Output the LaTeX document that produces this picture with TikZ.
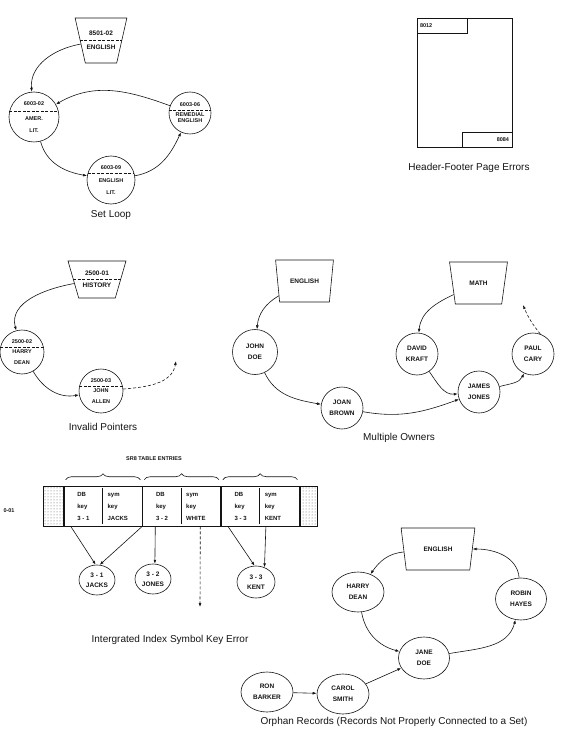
\documentclass[tikz,border=0pt]{standalone}
\usepackage{fontspec}
\setmainfont{Liberation Sans}
\definecolor{Ink}{HTML}{141414}
\usetikzlibrary{positioning,calc,arrows.meta,shapes.geometric,patterns,decorations.pathreplacing}
\renewcommand{\arraystretch}{1.5}
\tikzset{
  rec/.style={circle,draw=Ink,line width=0.6pt,inner sep=0pt,minimum size=44pt,
    align=center,font=\bfseries\fontsize{5.5}{6.6}\selectfont,text=Ink},
  recb/.style={rec,font=\bfseries\fontsize{6.5}{7.8}\selectfont},
  rece/.style={recb,ellipse,minimum width=52pt,minimum height=40pt},
  own/.style={trapezium,trapezium angle=63,shape border rotate=180,
    trapezium stretches=true,draw=Ink,line width=0.6pt,inner sep=0pt,
    minimum width=58pt,minimum height=42pt,align=center,
    font=\bfseries\fontsize{6.5}{7.8}\selectfont,text=Ink},
  ptr/.style={-{Latex[length=4pt,width=2.8pt]},draw=Ink,line width=0.6pt},
  lost/.style={ptr,dash pattern=on 3pt off 2pt},
  cut/.style={draw=Ink,line width=0.6pt,dash pattern=on 3pt off 1.5pt},
  ttl/.style={font=\fontsize{10}{12}\selectfont,text=Ink},
  lbl/.style={font=\bfseries\fontsize{5.5}{6.6}\selectfont,text=Ink},
  hf/.style={lbl,draw=Ink,line width=0.6pt,minimum width=50pt,minimum height=15pt,
    text width=44pt,inner xsep=3pt,inner ysep=0pt},
  ent/.style={draw=Ink,line width=0.6pt,minimum width=78pt,minimum height=40pt,
    inner sep=0pt,font=\bfseries\fontsize{6}{8}\selectfont,text=Ink},
  pad/.style={draw=Ink,line width=0.6pt,minimum height=40pt,inner sep=0pt,
    pattern=dots,pattern color=Ink!70},
  brc/.style={decorate,decoration={brace,amplitude=6pt},draw=Ink,line width=0.6pt},
}
\newcommand{\tblent}[2]{\begin{tabular}{@{\hspace{13pt}}p{25pt}@{}|@{\hspace{5pt}}p{34pt}@{}}
  DB&sym\\key&key\\#1&#2\end{tabular}}

\begin{document}
\begin{tikzpicture}[x=1pt,y=1pt]
\useasboundingbox (0,0) rectangle (578,-743);

% set loop
\node[own,minimum width=52pt,minimum height=45pt] (t1) at (101,-40.5) {8501-02\\[6pt]ENGLISH};
\node[rec,minimum size=50pt] (amer) at (34,-117) {6003-02\\[9pt]AMER.\\[5pt]LIT.};
\node[rec,minimum size=42pt] (remd) at (190,-113) {6003-06\\[3pt]REMEDIAL\\ENGLISH};
\node[rec,minimum size=48pt] (elit) at (111,-180) {6003-09\\[6pt]ENGLISH\\[5pt]LIT.};
\node[ttl] (c-loop) at (111,-215) {Set Loop};
\draw[cut] (t1.west) -- (t1.east);
\draw[cut] (amer.166) -- (amer.14);
\draw[cut] (remd.172) -- (remd.8);
\draw[cut] (elit.165) -- (elit.15);
\draw[ptr] (t1) to[out=190,in=95] (amer);
\draw[ptr] (remd) to[out=160,in=30] (amer);
\draw[ptr] (amer) to[out=-75,in=170] (elit);
\draw[ptr] (elit) to[out=10,in=-115] (remd);

% header / footer page
\node[draw=Ink,line width=0.6pt,minimum width=95pt,minimum height=129pt,inner sep=0pt] (pg) at (464.5,-82.5) {};
\node[hf,anchor=north west,align=left] (hd) at (pg.north west) {8012};
\node[hf,anchor=south east,align=right] (ft) at (pg.south east) {8084};
\node[ttl] (c-hf) at (469,-168) {Header-Footer Page Errors};

% invalid pointers
\node[own,minimum width=58pt,minimum height=37pt] (t2) at (97,-279.5) {2500-01\\[4pt]HISTORY};
\node[rec] (hd2) at (22,-352) {2500-02\\[4pt]HARRY\\[4pt]DEAN};
\node[rec] (ja) at (101,-391) {2500-03\\[4pt]JOHN\\[4pt]ALLEN};
\coordinate (ip-end) at (176,-361);
\node[ttl] (c-ip) at (103,-427) {Invalid Pointers};
\draw[cut] (t2.west) -- (t2.east);
\draw[cut] (hd2.167) -- (hd2.13);
\draw[cut] (ja.167) -- (ja.13);
\draw[ptr] (t2) to[out=190,in=105] (hd2);
\draw[ptr] (hd2) to[out=-60,in=190] (ja);
\draw[lost] (ja) to[out=5,in=-100] (ip-end);

% multiple owners
\node[own] (t3) at (304.5,-281) {ENGLISH};
\node[own] (t4) at (478.5,-283) {MATH};
\node[recb,minimum size=45pt] (jdoe) at (255,-352) {JOHN\\[3pt]DOE};
\node[recb,minimum size=42pt] (jb) at (342,-408) {JOAN\\[3pt]BROWN};
\node[recb,minimum size=42pt] (dk) at (417,-354) {DAVID\\[3pt]KRAFT};
\node[recb,minimum size=42pt] (jj) at (479,-392) {JAMES\\[3pt]JONES};
\node[recb,minimum size=42pt] (pc) at (533,-354) {PAUL\\[3pt]CARY};
\coordinate (mo-end) at (523,-305);
\node[ttl] (c-mo) at (399,-438) {Multiple Owners};
\draw[ptr] (t3) to[out=210,in=85] (jdoe);
\draw[ptr] (jdoe) to[out=-65,in=170] (jb);
\draw[ptr] (jb) to[out=-10,in=200] (jj);
\draw[ptr] (t4) to[out=205,in=85] (dk);
\draw[ptr] (dk) to[out=-55,in=185] (jj);
\draw[ptr] (jj) to[out=15,in=-115] (pc);
\draw[lost] (pc.70) to[bend left=8] (mo-end);

% integrated index
\node[ent] (e1) at (103,-506) {\tblent{3 - 1}{JACKS}};
\node[ent,right=0pt of e1] (e2) {\tblent{3 - 2}{WHITE}};
\node[ent,right=0pt of e2] (e3) {\tblent{3 - 3}{KENT}};
\node[pad,anchor=east,minimum width=20pt] (pl) at (e1.west) {};
\node[pad,anchor=west,minimum width=17pt] (pr) at (e3.east) {};
\node[lbl,anchor=west] (ix-id) at (0,-511) {0-01};
\node[lbl] (srt) at (154,-459) {SR8 TABLE ENTRIES};
\draw[brc] ($(e1.north west)+(2,6)$) -- ($(e1.north east)+(-2,6)$);
\draw[brc] ($(e2.north west)+(2,6)$) -- ($(e2.north east)+(-2,6)$);
\draw[brc] ($(e3.north west)+(2,6)$) -- ($(e3.north east)+(-2,6)$);
\node[rece,minimum width=36pt,minimum height=30pt] (jk) at (97,-580) {3 - 1\\[2pt]JACKS};
\node[rece,minimum width=36pt,minimum height=30pt] (jn) at (153,-579) {3 - 2\\[2pt]JONES};
\node[rece,minimum width=38pt,minimum height=32pt] (kt) at (256,-582) {3 - 3\\[2pt]KENT};
\coordinate (ix-end) at (200,-607);
\draw[ptr] ($(e1.south west)+(7,0)$) -- (jk.95);
\draw[ptr] (e1.south east) -- (jk.80);
\draw[ptr] ($(e2.south west)+(13,0)$) -- (jn.83);
\draw[lost] ($(e2.south west)+(58,0)$) -- (ix-end);
\draw[ptr] ($(e3.south west)+(7,0)$) -- (kt.95);
\draw[ptr] ($(e3.south west)+(45,0)$) -- (kt.60);
\node[ttl] (c-ix) at (170,-640) {Intergrated Index Symbol Key Error};

% orphan records
\node[own,minimum width=74pt] (t5) at (438,-549) {ENGLISH};
\node[rece] (hd5) at (358,-592) {HARRY\\[3pt]DEAN};
\node[rece,minimum width=51pt,minimum height=42pt] (rh) at (521,-599) {ROBIN\\[3pt]HAYES};
\node[rece,minimum width=51pt,minimum height=42pt] (jd) at (424,-658) {JANE\\[3pt]DOE};
\node[rece] (cs) at (343,-694) {CAROL\\[3pt]SMITH};
\node[rece] (rb) at (267,-692) {RON\\[3pt]BARKER};
\node[ttl] (c-or) at (394,-722) {Orphan Records (Records Not Properly Connected to a Set)};
\draw[ptr] (t5) to[out=185,in=55] (hd5);
\draw[ptr] (hd5) to[out=-80,in=165] (jd);
\draw[ptr] (jd) to[out=10,in=-105] (rh);
\draw[ptr] (rh) to[out=95,in=0] (t5);
\draw[ptr] (rb) -- (cs);
\draw[ptr] (cs) -- (jd);
\end{tikzpicture}
\end{document}
